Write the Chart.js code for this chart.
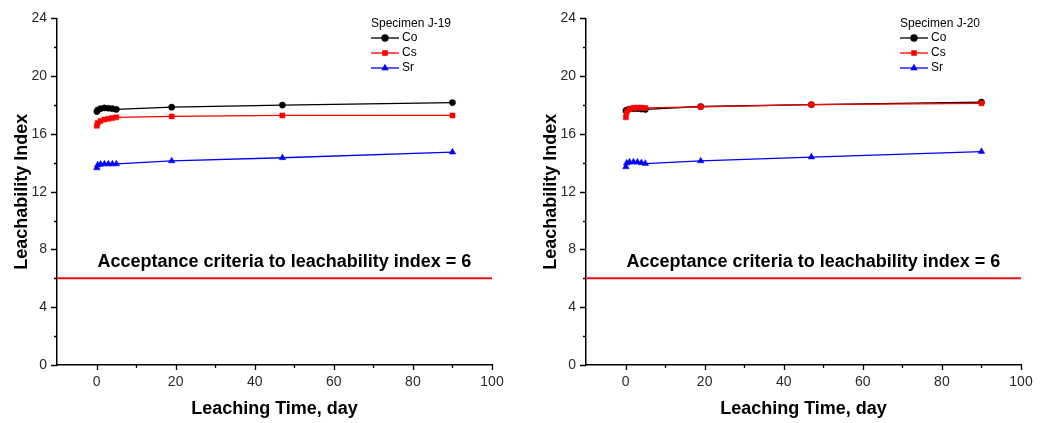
<!DOCTYPE html>
<html>
<head>
<meta charset="utf-8">
<script src="https://cdn.jsdelivr.net/npm/chart.js@4.4.1/dist/chart.umd.min.js"></script>
<style>
  html, body { margin: 0; padding: 0; background: #fff; }
  #wrap { position: relative; width: 1043px; height: 423px; overflow: hidden; }
  .panel { position: absolute; top: 0; width: 514px; height: 423px; }
</style>
</head>
<body>
<div id="wrap">
  <div class="panel" style="left:0"><canvas id="cJ19" width="514" height="423"></canvas></div>
  <div class="panel" style="left:529px"><canvas id="cJ20" width="514" height="423"></canvas></div>
</div>
<script>
// Cumulative leaching time of each sampling interval, days
const days = [0.083, 0.29, 1, 2, 3, 4, 5, 19, 47, 90];

// Specimen J-19 leachability indices
const j19Co = [17.55, 17.65, 17.75, 17.8, 17.78, 17.75, 17.7, 17.85, 18.0, 18.17];
const j19Cs = [16.57, 16.75, 16.9, 17.0, 17.05, 17.1, 17.15, 17.21, 17.28, 17.28];
const j19Sr = [13.65, 13.85, 13.9, 13.92, 13.92, 13.92, 13.92, 14.13, 14.35, 14.74];

// Specimen J-20 leachability indices
const j20Co = [17.6, 17.65, 17.72, 17.75, 17.75, 17.72, 17.7, 17.9, 18.03, 18.2];
const j20Cs = [17.15, 17.5, 17.72, 17.8, 17.82, 17.82, 17.8, 17.88, 18.03, 18.12];
const j20Sr = [13.72, 13.98, 14.05, 14.05, 14.05, 14.0, 13.95, 14.13, 14.4, 14.78];

// Regulatory acceptance level for the leachability index
const criteriaLevel = 6;

// Axis ranges and tick values
const xRange = [-10, 100];
const yRange = [0, 24];
const xMajorTicks = [0, 20, 40, 60, 80, 100];
const xMinorTicks = [10, 30, 50, 70, 90];
const yMajorTicks = [0, 4, 8, 12, 16, 20, 24];
const yMinorTicks = [2, 6, 10, 14, 18, 22];

const nuclides = ['Co', 'Cs', 'Sr'];
const seriesStyle = {
  Co: { color: '#000000', pointStyle: 'circle', radius: 3.1, order: 1 },
  Cs: { color: '#ff0000', pointStyle: 'rect', radius: 3.6, order: 0 },
  Sr: { color: '#0000ff', pointStyle: 'triangle', radius: 3.8, order: 2 }
};

const toPoints = (vals) => days.map((d, i) => ({ x: d, y: vals[i] }));

// Short outward tick marks, major and minor
const axisTickMarks = {
  id: 'axisTickMarks',
  afterDraw(chart) {
    const { ctx, chartArea: a, scales: { x, y } } = chart;
    ctx.save();
    ctx.strokeStyle = '#000';
    ctx.lineWidth = 1.3;
    ctx.beginPath();
    const xt = (list, len) => list.forEach(v => {
      const px = Math.round(x.getPixelForValue(v)) + 0.5;
      ctx.moveTo(px, a.bottom); ctx.lineTo(px, a.bottom + len);
    });
    const yt = (list, len) => list.forEach(v => {
      const py = Math.round(y.getPixelForValue(v)) + 0.5;
      ctx.moveTo(a.left - len, py); ctx.lineTo(a.left, py);
    });
    xt(xMajorTicks, 5); xt(xMinorTicks, 3);
    yt(yMajorTicks, 6); yt(yMinorTicks, 3);
    ctx.stroke();
    ctx.restore();
  }
};

// Criteria caption above the red limit line
const criteriaCaption = {
  id: 'criteriaCaption',
  afterDatasetsDraw(chart) {
    const { ctx, scales: { x, y } } = chart;
    ctx.save();
    ctx.font = 'bold 18px "Liberation Sans", Arial, sans-serif';
    ctx.fillStyle = '#000';
    ctx.textAlign = 'center';
    ctx.textBaseline = 'alphabetic';
    ctx.fillText('Acceptance criteria to leachability index = ' + criteriaLevel,
      x.getPixelForValue(47.5), y.getPixelForValue(criteriaLevel + 0.8));
    ctx.restore();
  }
};

// Boxless legend with a specimen heading and line+marker samples
const specimenLegend = {
  id: 'specimenLegend',
  afterDraw(chart, args, opts) {
    const { ctx } = chart;
    const x0 = 371, y0 = 24, rowGap = 15, sampleLen = 28;
    ctx.save();
    ctx.font = '12px "Liberation Sans", Arial, sans-serif';
    ctx.fillStyle = '#000';
    ctx.textAlign = 'left';
    ctx.textBaseline = 'middle';
    ctx.fillText(opts.title, x0, y0);
    chart.data.datasets.filter(ds => nuclides.includes(ds.label)).forEach((ds, i) => {
      const yy = y0 + rowGap * (i + 1) - 1;
      ctx.strokeStyle = ds.borderColor;
      ctx.lineWidth = 1.3;
      ctx.beginPath();
      ctx.moveTo(x0, yy); ctx.lineTo(x0 + sampleLen, yy);
      ctx.stroke();
      ctx.fillStyle = ds.pointBackgroundColor;
      ctx.strokeStyle = ds.pointBorderColor;
      Chart.helpers.drawPoint(ctx, { pointStyle: ds.pointStyle, radius: 3, rotation: 0, borderWidth: 1 },
        x0 + sampleLen / 2, yy);
      ctx.fillStyle = '#000';
      ctx.fillText(ds.label, x0 + sampleLen + 3, yy);
    });
    ctx.restore();
  }
};

function buildChart(canvasId, specimen, series) {
  const datasets = nuclides.map(n => ({
    label: n,
    data: toPoints(series[n]),
    borderColor: seriesStyle[n].color,
    backgroundColor: seriesStyle[n].color,
    pointBackgroundColor: seriesStyle[n].color,
    pointBorderColor: seriesStyle[n].color,
    pointStyle: seriesStyle[n].pointStyle,
    pointRadius: seriesStyle[n].radius,
    pointBorderWidth: 0.5,
    borderWidth: 1.3,
    tension: 0,
    order: seriesStyle[n].order
  }));
  datasets.push({
    label: 'criteria',
    data: [{ x: xRange[0], y: criteriaLevel }, { x: xRange[1], y: criteriaLevel }],
    borderColor: '#e8111b',
    borderWidth: 2,
    pointRadius: 0,
    order: 5
  });

  return new Chart(document.getElementById(canvasId), {
    type: 'line',
    data: { datasets },
    options: {
      responsive: false,
      animation: false,
      devicePixelRatio: 1,
      layout: { padding: { top: 15, right: 22, bottom: 0, left: 0 } },
      plugins: {
        legend: { display: false },
        tooltip: { enabled: false },
        specimenLegend: { title: 'Specimen ' + specimen }
      },
      scales: {
        x: {
          type: 'linear',
          min: xRange[0], max: xRange[1],
          grid: { display: false, drawTicks: false },
          border: { display: true, color: '#000', width: 1.5 },
          ticks: {
            stepSize: 10, autoSkip: false, maxRotation: 0, padding: 9,
            color: '#2a2a2a',
            font: { family: '"Liberation Sans", Arial, sans-serif', size: 14 },
            callback: v => xMajorTicks.includes(v) ? String(v) : ''
          },
          title: {
            display: true, text: 'Leaching Time, day', color: '#000',
            font: { family: '"Liberation Sans", Arial, sans-serif', size: 18, weight: 'bold' },
            padding: { top: 0, bottom: 3 }
          },
          afterFit: s => { s.height = 58; }
        },
        y: {
          type: 'linear',
          min: yRange[0], max: yRange[1],
          grid: { display: false, drawTicks: false },
          border: { display: true, color: '#000', width: 1.5 },
          ticks: {
            stepSize: 2, autoSkip: false, padding: 10,
            color: '#2a2a2a',
            font: { family: '"Liberation Sans", Arial, sans-serif', size: 14 },
            callback: v => yMajorTicks.includes(v) ? String(v) : ''
          },
          title: {
            display: true, text: 'Leachability Index', color: '#000',
            font: { family: '"Liberation Sans", Arial, sans-serif', size: 18, weight: 'bold' },
            padding: { top: 11, bottom: 0 }
          },
          afterFit: s => { s.width = 57; }
        }
      }
    },
    plugins: [axisTickMarks, criteriaCaption, specimenLegend]
  });
}

buildChart('cJ19', 'J-19', { Co: j19Co, Cs: j19Cs, Sr: j19Sr });
buildChart('cJ20', 'J-20', { Co: j20Co, Cs: j20Cs, Sr: j20Sr });
</script>
</body>
</html>
